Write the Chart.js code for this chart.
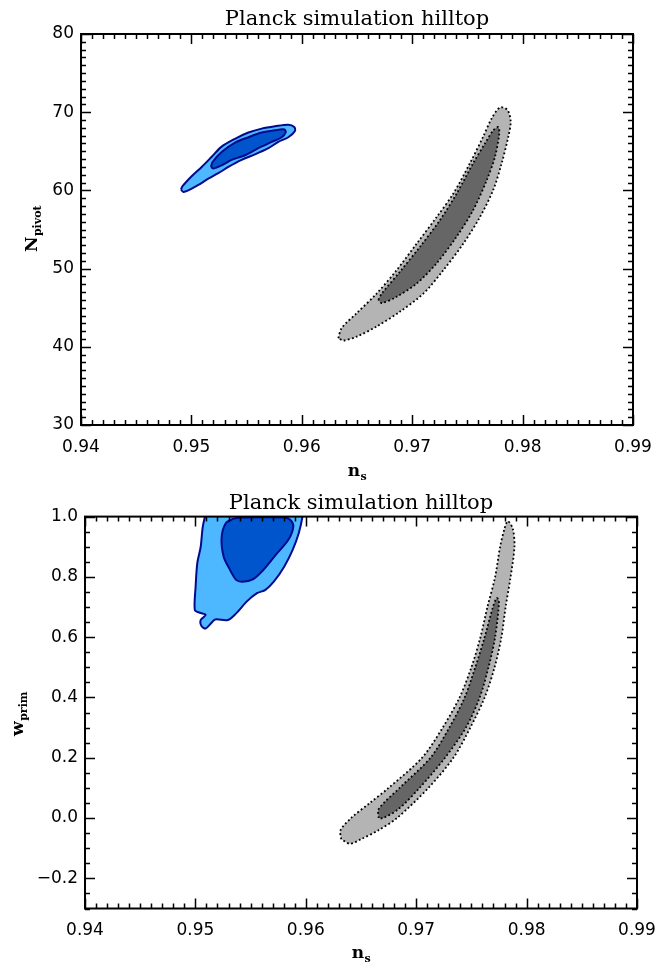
<!DOCTYPE html>
<html>
<head>
<meta charset="utf-8">
<title>Planck simulation hilltop</title>
<script src="https://cdn.jsdelivr.net/npm/chart.js@4.4.1/dist/chart.umd.min.js"></script>
<style>
    html, body { margin: 0; padding: 0; background: #fff; }
    canvas { display: block; }
</style>
</head>
<body>
<canvas id="pivotChart" width="655" height="482"></canvas>
<canvas id="primChart" width="655" height="483"></canvas>
<script>
// axes
const nsTickValues = [0.94, 0.95, 0.96, 0.97, 0.98, 0.99];
const nsTickLabels = ['0.94', '0.95', '0.96', '0.97', '0.98', '0.99'];
const pivotTickValues = [30, 40, 50, 60, 70, 80];
const pivotTickLabels = ['30', '40', '50', '60', '70', '80'];
const primTickValues = [-0.2, 0, 0.2, 0.4, 0.6, 0.8, 1.0];
const primTickLabels = ['\u22120.2', '0.0', '0.2', '0.4', '0.6', '0.8', '1.0'];

// top panel: N_pivot vs n_s
const pivotBlueOuterNs = [0.94906, 0.94918, 0.95002, 0.95093, 0.95184, 0.95274, 0.95395, 0.95516, 0.95636, 0.95757, 0.95878, 0.95932,
    0.95938, 0.95878, 0.95787, 0.95697, 0.95576, 0.95455, 0.95335, 0.95244, 0.95153, 0.95063, 0.94972, 0.94927];
const pivotBlueOuterN = [60.1, 60.5, 61.8, 63.0, 64.3, 65.6, 66.6, 67.4, 67.9, 68.2, 68.4, 68.1,
    67.6, 66.8, 66.2, 65.4, 64.6, 63.9, 63.0, 62.2, 61.5, 60.7, 60.0, 59.8];
const pivotBlueInnerNs = [0.95178, 0.95190, 0.95274, 0.95395, 0.95516, 0.95636, 0.95757, 0.95842, 0.95854, 0.95818, 0.95727,
    0.95606, 0.95486, 0.95365, 0.95274, 0.95199];
const pivotBlueInnerN = [63.0, 63.6, 64.9, 66.1, 66.8, 67.4, 67.7, 67.8, 67.4, 66.8, 66.2,
    65.4, 64.5, 63.9, 63.2, 62.8];
const pivotGrayOuterNs = [0.96331, 0.96361, 0.96497, 0.96678, 0.96859, 0.97041, 0.97222, 0.97373, 0.97524, 0.97644, 0.97720, 0.97795,
    0.97862, 0.97892, 0.97871, 0.97811, 0.97735, 0.97614, 0.97463, 0.97282, 0.97101, 0.96889, 0.96678, 0.96497, 0.96376];
const pivotGrayOuterN = [41.1, 42.4, 44.3, 46.8, 49.8, 53.2, 56.6, 59.6, 63.5, 66.9, 69.2, 70.6,
    70.3, 68.8, 66.9, 63.5, 60.1, 56.6, 53.2, 49.8, 46.8, 44.5, 42.6, 41.3, 40.8];
const pivotGrayInnerNs = [0.96693, 0.96724, 0.96889, 0.97071, 0.97252, 0.97403, 0.97553, 0.97659, 0.97735, 0.97780,
    0.97789, 0.97750, 0.97675, 0.97553, 0.97403, 0.97222, 0.97041, 0.96859, 0.96724];
const pivotGrayInnerN = [46.0, 46.8, 49.6, 52.8, 56.2, 59.6, 63.5, 66.0, 67.7, 68.1,
    67.3, 64.3, 61.3, 57.5, 54.1, 50.7, 48.1, 46.4, 45.6];

// bottom panel: w_prim vs n_s
const primBlueOuterNs = [0.95100, 0.95067, 0.95048, 0.95017, 0.95002, 0.94995, 0.95040, 0.95093, 0.95048, 0.95055, 0.95093, 0.95142,
    0.95180, 0.95293, 0.95369, 0.95464, 0.95558, 0.95634, 0.95710, 0.95804, 0.95880, 0.95936, 0.95970, 0.95970];
const primBlueOuterW = [1.02, 0.967, 0.900, 0.845, 0.768, 0.690, 0.681, 0.674, 0.657, 0.637, 0.629, 0.646,
    0.659, 0.657, 0.679, 0.718, 0.746, 0.757, 0.784, 0.834, 0.889, 0.945, 1.0, 1.02];
const primBlueInnerNs = [0.95350, 0.95275, 0.95237, 0.95256, 0.95305, 0.95369, 0.95426, 0.95520, 0.95615, 0.95728, 0.95842,
    0.95887, 0.95861, 0.95804, 0.95577, 0.95426];
const primBlueInnerW = [0.994, 0.978, 0.928, 0.867, 0.829, 0.790, 0.784, 0.792, 0.823, 0.873, 0.923,
    0.967, 0.989, 0.997, 0.998, 0.997];
const primGrayOuterNs = [0.96320, 0.96315, 0.96410, 0.96580, 0.96750, 0.97053, 0.97240, 0.97393, 0.97500, 0.97582, 0.97645, 0.97715,
    0.97760, 0.97800, 0.97830, 0.97875, 0.97890, 0.97855, 0.97810, 0.97772, 0.97710, 0.97620, 0.97490, 0.97337, 0.97110,
    0.96826, 0.96660, 0.96500, 0.96400];
const primGrayOuterW = [-0.070, -0.040, 0.000, 0.050, 0.100, 0.200, 0.300, 0.400, 0.500, 0.600, 0.700, 0.800,
    0.900, 0.960, 0.985, 0.960, 0.900, 0.800, 0.700, 0.600, 0.500, 0.400, 0.300, 0.200, 0.100,
    0.000, -0.040, -0.070, -0.085];
const primGrayInnerNs = [0.96660, 0.96660, 0.96850, 0.97129, 0.97300, 0.97439, 0.97535, 0.97620, 0.97695, 0.97730,
    0.97750, 0.97715, 0.97655, 0.97575, 0.97450, 0.97261, 0.97030, 0.96840, 0.96700];
const primGrayInnerW = [0.000, 0.030, 0.100, 0.200, 0.300, 0.400, 0.500, 0.600, 0.700, 0.730,
    0.720, 0.600, 0.500, 0.400, 0.300, 0.200, 0.100, 0.030, 0.000];

const lightBlue = '#4db8ff';
const darkBlue = '#0055cc';
const navy = '#000a8c';
const lightGray = '#b4b4b4';
const darkGray = '#666666';

function closedLoop(xs, ys) {
    const pts = xs.map((x, i) => ({ x: x, y: ys[i] }));
    pts.push({ x: xs[0], y: ys[0] });
    return pts;
}

function contour(xs, ys, fillColor, lineColor, dotted) {
    return {
        data: closedLoop(xs, ys),
        showLine: true,
        fill: false,
        tension: 0.3,
        pointRadius: 0,
        pointHoverRadius: 0,
        borderColor: lineColor,
        borderWidth: dotted ? 1.8 : 2,
        borderDash: dotted ? [1.8, 2.4] : [],
        borderJoinStyle: 'round',
        contourFill: fillColor
    };
}

// fills each closed contour before its outline is drawn
const contourFill = {
    id: 'contourFill',
    beforeDatasetDraw(chart, args) {
        const ds = chart.data.datasets[args.index];
        const line = args.meta.dataset;
        if (!ds.contourFill || !line) return;
        const { ctx, chartArea: a } = chart;
        ctx.save();
        ctx.beginPath();
        ctx.rect(a.left, a.top, a.right - a.left, a.bottom - a.top);
        ctx.clip();
        ctx.beginPath();
        line.path(ctx);
        ctx.closePath();
        ctx.fillStyle = ds.contourFill;
        ctx.fill();
        ctx.restore();
    }
};

// box with inward major/minor ticks on all sides, plus axis titles with subscripts
const idlFrame = {
    id: 'idlFrame',
    afterDatasetsDraw(chart, args, opts) {
        const { ctx, chartArea: a, scales } = chart;
        ctx.save();
        ctx.strokeStyle = '#000';
        ctx.lineWidth = 1.5;

        function drawTicks(scale, minor, major, horizontal) {
            const n = Math.round((scale.max - scale.min) / minor);
            for (let k = 0; k <= n; k++) {
                const v = scale.min + k * minor;
                const isMajor = Math.abs(v / major - Math.round(v / major)) < 1e-6;
                const len = isMajor ? 10 : 5;
                const p = Math.round(scale.getPixelForValue(v)) + 0.5;
                ctx.beginPath();
                if (horizontal) {
                    ctx.moveTo(p, a.bottom); ctx.lineTo(p, a.bottom - len);
                    ctx.moveTo(p, a.top); ctx.lineTo(p, a.top + len);
                } else {
                    ctx.moveTo(a.left, p); ctx.lineTo(a.left + len, p);
                    ctx.moveTo(a.right, p); ctx.lineTo(a.right - len, p);
                }
                ctx.stroke();
            }
        }
        drawTicks(scales.x, opts.xMinor, opts.xMajor, true);
        drawTicks(scales.y, opts.yMinor, opts.yMajor, false);

        ctx.lineWidth = 2;
        ctx.strokeRect(a.left, a.top, a.right - a.left, a.bottom - a.top);

        function subscripted(main, sub, x, y) {
            ctx.font = 'bold 17px "DejaVu Serif"';
            const w1 = ctx.measureText(main).width;
            ctx.font = 'bold 11px "DejaVu Serif"';
            const w2 = ctx.measureText(sub).width;
            const x0 = x - (w1 + w2) / 2;
            ctx.font = 'bold 17px "DejaVu Serif"';
            ctx.fillText(main, x0, y);
            ctx.font = 'bold 11px "DejaVu Serif"';
            ctx.fillText(sub, x0 + w1 + 0.5, y + 4);
        }

        ctx.fillStyle = '#000';
        ctx.textBaseline = 'alphabetic';
        ctx.textAlign = 'left';
        subscripted(opts.xTitle[0], opts.xTitle[1], (a.left + a.right) / 2, opts.xTitleBaseline);

        ctx.translate(opts.yTitleBaseline, opts.yTitleCenter);
        ctx.rotate(-Math.PI / 2);
        subscripted(opts.yTitle[0], opts.yTitle[1], 0, 0);
        ctx.restore();
    }
};

function panelOptions(cfg) {
    return {
        responsive: false,
        animation: false,
        layout: { padding: { left: 0, right: cfg.rightPad, top: 0, bottom: 0 } },
        plugins: {
            legend: { display: false },
            tooltip: { enabled: false },
            title: {
                display: true,
                text: 'Planck simulation hilltop',
                fullSize: false,
                color: '#000',
                font: { family: '"DejaVu Serif"', size: 21, weight: 'normal', lineHeight: 1.2 },
                padding: { top: cfg.titleTop, bottom: cfg.titleBottom }
            },
            idlFrame: cfg.frame
        },
        scales: {
            x: {
                type: 'linear',
                min: 0.94,
                max: 0.99,
                afterBuildTicks: (s) => { s.ticks = nsTickValues.map(v => ({ value: v })); },
                afterFit: (s) => {
                    s.height = cfg.xAxisHeight;
                    s.paddingLeft = 0;
                    s.paddingRight = 0;
                },
                grid: { display: false, drawTicks: false },
                border: { display: false },
                ticks: {
                    padding: 12,
                    color: '#000',
                    maxRotation: 0,
                    autoSkip: false,
                    font: { family: '"DejaVu Sans"', size: 17 },
                    callback: (v, i) => nsTickLabels[i]
                }
            },
            y: {
                type: 'linear',
                min: cfg.yMin,
                max: cfg.yMax,
                afterBuildTicks: (s) => { s.ticks = cfg.yTickValues.map(v => ({ value: v })); },
                afterFit: (s) => {
                    s.width = cfg.yAxisWidth;
                    s.paddingTop = 0;
                    s.paddingBottom = 0;
                },
                grid: { display: false, drawTicks: false },
                border: { display: false },
                ticks: {
                    padding: 7,
                    color: '#000',
                    autoSkip: false,
                    font: { family: '"DejaVu Sans"', size: 17 },
                    callback: (v, i) => cfg.yTickLabels[i]
                }
            }
        }
    };
}

new Chart(document.getElementById('pivotChart'), {
    type: 'scatter',
    plugins: [contourFill, idlFrame],
    data: {
        datasets: [
            contour(pivotBlueInnerNs, pivotBlueInnerN, darkBlue, navy, false),
            contour(pivotBlueOuterNs, pivotBlueOuterN, lightBlue, navy, false),
            contour(pivotGrayInnerNs, pivotGrayInnerN, darkGray, '#000', true),
            contour(pivotGrayOuterNs, pivotGrayOuterN, lightGray, '#000', true)
        ]
    },
    options: panelOptions({
        rightPad: 22,
        titleTop: 6.5,
        titleBottom: 2.3,
        xAxisHeight: 57,
        yAxisWidth: 81,
        yMin: 30,
        yMax: 80,
        yTickValues: pivotTickValues,
        yTickLabels: pivotTickLabels,
        frame: {
            xMinor: 0.001, xMajor: 0.01, yMinor: 1, yMajor: 10,
            xTitle: ['n', 's'], xTitleBaseline: 476,
            yTitle: ['N', 'pivot'], yTitleBaseline: 37, yTitleCenter: 229
        }
    })
});

new Chart(document.getElementById('primChart'), {
    type: 'scatter',
    plugins: [contourFill, idlFrame],
    data: {
        datasets: [
            contour(primBlueInnerNs, primBlueInnerW, darkBlue, navy, false),
            contour(primBlueOuterNs, primBlueOuterW, lightBlue, navy, false),
            contour(primGrayInnerNs, primGrayInnerW, darkGray, '#000', true),
            contour(primGrayOuterNs, primGrayOuterW, lightGray, '#000', true)
        ]
    },
    options: panelOptions({
        rightPad: 18,
        titleTop: 9,
        titleBottom: 0.4,
        xAxisHeight: 56.5,
        yAxisWidth: 85,
        yMin: -0.3,
        yMax: 1.0,
        yTickValues: primTickValues,
        yTickLabels: primTickLabels,
        frame: {
            xMinor: 0.001, xMajor: 0.01, yMinor: 0.05, yMajor: 0.2,
            xTitle: ['n', 's'], xTitleBaseline: 476,
            yTitle: ['w', 'prim'], yTitleBaseline: 23, yTitleCenter: 232
        }
    })
});
</script>
</body>
</html>
